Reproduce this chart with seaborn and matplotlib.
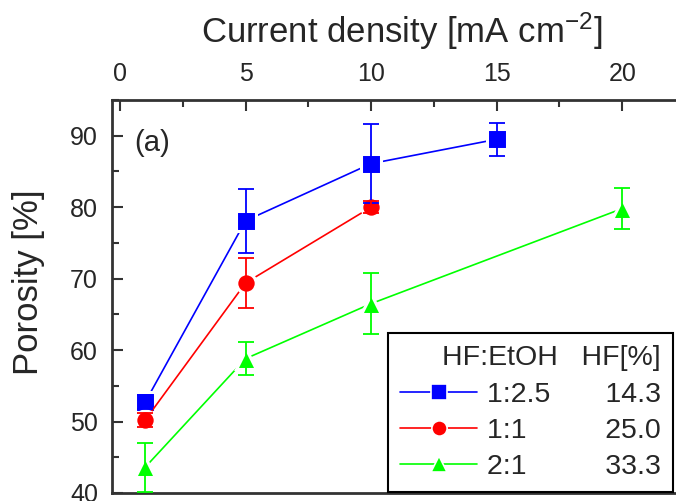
import matplotlib
matplotlib.use("Agg")
import matplotlib.pyplot as plt
import seaborn as sns
import pandas as pd
from matplotlib.lines import Line2D
from matplotlib.ticker import MultipleLocator

# ---- data ----
ratios = ["1:2.5", "1:1", "2:1"]
hf_percent = ["14.3", "25.0", "33.3"]

current_125 = [1, 5, 10, 15]
porosity_125 = [52.7, 78.1, 86.1, 89.5]
error_125 = [1.0, 4.5, 5.5, 2.3]

current_11 = [1, 5, 10]
porosity_11 = [50.2, 69.4, 80.0]
error_11 = [1.0, 3.5, 0.8]

current_21 = [1, 5, 10, 20]
porosity_21 = [43.6, 58.8, 66.5, 79.8]
error_21 = [3.4, 2.3, 4.3, 2.9]

x_ticks = [0, 5, 10, 15, 20]
y_ticks = [40, 50, 60, 70, 80, 90]

colors = {"1:2.5": "#0000FF", "1:1": "#FF0000", "2:1": "#00FF00"}
markers = {"1:2.5": "s", "1:1": "o", "2:1": "^"}

series = [
    ("1:2.5", current_125, porosity_125, error_125),
    ("1:1", current_11, porosity_11, error_11),
    ("2:1", current_21, porosity_21, error_21),
]
df = pd.concat([
    pd.DataFrame({"ratio": r, "current": c, "porosity": p, "err": e})
    for r, c, p, e in series
], ignore_index=True)

sns.set_style("ticks")
plt.rcParams["font.family"] = ["Liberation Sans", "DejaVu Sans"]
plt.rcParams["mathtext.fontset"] = "custom"
plt.rcParams["mathtext.rm"] = "Liberation Sans"
plt.rcParams["mathtext.it"] = "Liberation Sans"

fig = plt.figure(figsize=(6.76, 5.01), dpi=100)
ax = fig.add_axes([112 / 676, 8 / 501, (690 - 112) / 676, (493 - 100) / 501])

sns.lineplot(data=df, x="current", y="porosity", hue="ratio", style="ratio",
             palette=colors, markers=markers, dashes=False, markersize=14,
             markeredgewidth=2.2, markeredgecolor="white", linewidth=1.2,
             sort=False, errorbar=None, legend=False, ax=ax)

for r, c, p, e in series:
    ax.errorbar(c, p, yerr=e, fmt="none", ecolor=colors[r], elinewidth=1.3,
                capsize=6, capthick=1.3, zorder=3)

ax.set_xlim(-0.32, 22.7)
ax.set_ylim(40, 95)
ax.set_xticks(x_ticks)
ax.set_yticks(y_ticks)
ax.xaxis.set_minor_locator(MultipleLocator(2.5))
ax.yaxis.set_minor_locator(MultipleLocator(5))
ax.xaxis.set_label_position("top")
ax.tick_params(axis="x", which="both", direction="in", top=True, bottom=False,
               labeltop=True, labelbottom=False, color="#333333", width=1.5)
ax.tick_params(axis="y", which="both", direction="in", left=True, right=False,
               color="#333333", width=1.5)
ax.tick_params(which="major", length=8, labelsize=18, pad=10)
ax.tick_params(which="minor", length=5)
for s in ["left", "top", "bottom", "right"]:
    ax.spines[s].set_color("#333333")
    ax.spines[s].set_linewidth(2)

ax.set_xlabel(r"Current density [mA cm$^{\mathregular{-2}}$]", fontsize=25)
ax.xaxis.set_label_coords((402 - 112) / 578, (493 - 43) / 393)
ax.set_ylabel("Porosity [%]", fontsize=25)
ax.yaxis.set_label_coords((45 - 112) / 578, (493 - 282) / 393)

ax.text(152 / 676, 1 - 143 / 501, "(a)", transform=fig.transFigure, fontsize=21,
        ha="center", va="center")

handles = []
for r in ratios:
    handles.append(Line2D([], [], color=colors[r], marker=markers[r], markersize=11,
                          markeredgecolor="white", markeredgewidth=1.2, linewidth=1.2))
gaps = {"1:2.5": 7, "1:1": 10, "2:1": 10}
labels = [r + " " * gaps[r] + v for r, v in zip(ratios, hf_percent)]
leg = ax.legend(handles, labels, loc="lower right", bbox_to_anchor=(673 / 676, 9 / 501),
                bbox_transform=fig.transFigure, fontsize=20.5, frameon=True, fancybox=False,
                framealpha=1, edgecolor="black", handlelength=2.7, handletextpad=0.35,
                labelspacing=0.36, borderpad=0.42, borderaxespad=0,
                title="HF:EtOH   HF[%]", title_fontsize=20.5, alignment="right")
leg.get_frame().set_linewidth(1.5)
leg.set_zorder(5)

fig.savefig("out.png", dpi=100)
